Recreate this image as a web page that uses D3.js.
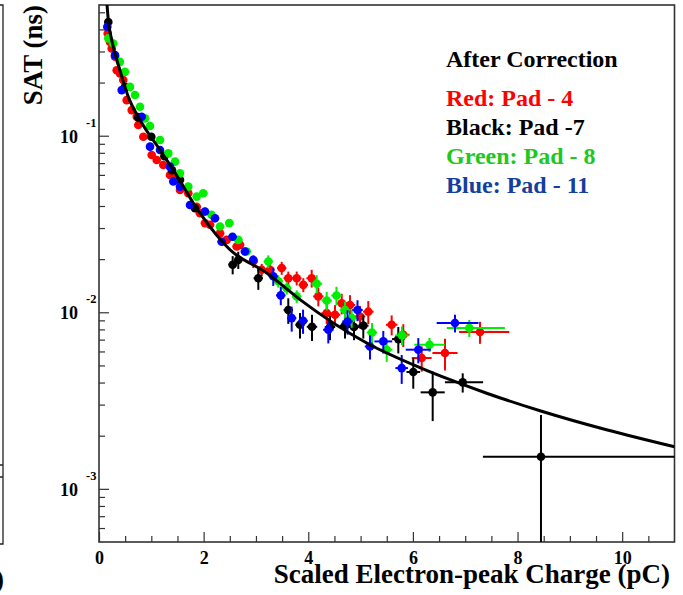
<!DOCTYPE html>
<html>
<head>
<meta charset="utf-8">
<script src="https://cdn.jsdelivr.net/npm/d3@7"></script>
<style>
  body { margin: 0; background: #fff; }
  text { font-family: "Liberation Serif", "Times New Roman", serif; font-weight: bold; }
</style>
</head>
<body>
<svg id="chart"></svg>
<script>
// ---- data ----
var redX = [0.166, 0.21, 0.243, 0.306, 0.338, 0.40, 0.464, 0.497, 0.529, 0.625, 0.721, 0.751, 0.847, 1.007, 1.103, 1.229, 1.357, 1.453, 1.548, 1.707, 1.867, 1.93, 2.026, 2.122, 2.313, 2.441, 2.632, 2.695, 2.949, 3.11, 3.268, 3.492, 3.618, 3.779, 3.905, 4.065, 4.192, 4.352, 4.511, 4.639, 4.797, 4.988, 5.147, 5.594, 5.816, 6.168, 6.613, 7.282];
var redY = [0.379, 0.340, 0.312, 0.280, 0.235, 0.225, 0.207, 0.189, 0.159, 0.1397, 0.128, 0.115, 0.0987, 0.0777, 0.0729, 0.0683, 0.0599, 0.0574, 0.0493, 0.0472, 0.0396, 0.0364, 0.0320, 0.0313, 0.0280, 0.0257, 0.0236, 0.0241, 0.0194, 0.0174, 0.0174, 0.0178, 0.0156, 0.0156, 0.0143, 0.0156, 0.0123, 0.00989, 0.00968, 0.01124, 0.0110, 0.00947, 0.01008, 0.0085, 0.00746, 0.00551, 0.00588, 0.00773];
var redEx = [0.07, 0.07, 0.07, 0.07, 0.07, 0.07, 0.07, 0.07, 0.07, 0.07, 0.07, 0.07, 0.07, 0.07, 0.07, 0.07, 0.07, 0.07, 0.07, 0.07, 0.08, 0.08, 0.08, 0.08, 0.08, 0.08, 0.08, 0.08, 0.09, 0.09, 0.09, 0.09, 0.09, 0.09, 0.09, 0.1, 0.1, 0.1, 0.1, 0.1, 0.1, 0.1, 0.1, 0.11, 0.12, 0.19, 0.24, [0.40, 0.56]];
var redEy = [0.009, 0.008, 0.008, 0.007, 0.006, 0.006, 0.005, 0.005, 0.004, 0.0035, 0.0032, 0.003, 0.0025, 0.002, 0.0019, 0.0018, 0.0016, 0.0015, 0.0013, 0.0013, 0.0016, 0.0015, 0.0013, 0.0013, 0.0012, 0.0011, 0.0011, 0.0011, 0.0016, 0.0014, 0.0015, 0.0015, 0.0014, 0.0014, 0.0013, 0.0018, 0.0015, 0.0013, 0.0013, 0.0015, 0.0015, 0.0014, 0.0015, 0.0011, 0.0011, 0.0009, 0.0012, 0.0011];

var blackX = [0.178, 0.5, 0.75, 1.0, 1.25, 1.395, 1.548, 1.835, 2.555, 2.662, 3.045, 3.618, 3.842, 4.071, 4.415, 4.702, 4.874, 5.052, 5.721, 6.007, 6.378, 6.952, 8.448];
var blackY = [0.441, 0.188, 0.127, 0.0986, 0.0766, 0.0637, 0.0562, 0.0388, 0.0186, 0.0198, 0.0156, 0.0103, 0.0085, 0.00828, 0.00825, 0.0084, 0.00825, 0.0084, 0.00705, 0.00459, 0.00352, 0.00401, 0.00152];
var blackEx = [0.07, 0.07, 0.07, 0.07, 0.07, 0.07, 0.07, 0.08, 0.08, 0.08, 0.09, 0.09, 0.09, 0.1, 0.1, 0.1, 0.1, 0.1, 0.12, 0.13, 0.23, [0.34, 0.39], [1.11, 2.6]];
var blackEy = [0.011, 0.005, 0.0032, 0.0025, 0.002, 0.0016, 0.0014, 0.0012, 0.0022, 0.0022, 0.0022, 0.0017, 0.0014, 0.0014, 0.0013, 0.0013, 0.0013, 0.0013, 0.0012, 0.0009, 0.0011, 0.0005, 0.0011];

var greenX = [0.178, 0.273, 0.40, 0.497, 0.593, 0.688, 0.784, 0.879, 0.975, 1.166, 1.325, 1.453, 1.548, 1.707, 1.867, 1.993, 2.154, 2.313, 2.49, 2.662, 2.823, 3.236, 3.427, 3.588, 3.779, 4.161, 4.352, 4.539, 4.702, 4.83, 5.218, 5.499, 5.791, 6.317, 7.078];
var greenY = [0.356, 0.333, 0.262, 0.230, 0.189, 0.170, 0.146, 0.1254, 0.1135, 0.0946, 0.0794, 0.0713, 0.0612, 0.0515, 0.0452, 0.0472, 0.0356, 0.0306, 0.0320, 0.0257, 0.0221, 0.0194, 0.0150, 0.0137, 0.0123, 0.0145, 0.01165, 0.01244, 0.0103, 0.00927, 0.00768, 0.00614, 0.0074, 0.00655, 0.00814];
var greenEx = [0.07, 0.07, 0.07, 0.07, 0.07, 0.07, 0.07, 0.07, 0.07, 0.07, 0.07, 0.07, 0.07, 0.07, 0.07, 0.08, 0.08, 0.08, 0.08, 0.08, 0.08, 0.09, 0.09, 0.09, 0.09, 0.1, 0.1, 0.1, 0.1, 0.1, 0.1, 0.11, 0.13, 0.29, [0.43, 0.68]];
var greenEy = [0.009, 0.008, 0.0065, 0.0058, 0.0047, 0.0043, 0.0037, 0.0031, 0.0028, 0.0024, 0.002, 0.0018, 0.0015, 0.0013, 0.0011, 0.0019, 0.0014, 0.0012, 0.0013, 0.001, 0.0009, 0.0016, 0.0012, 0.0011, 0.001, 0.0017, 0.0014, 0.0015, 0.0012, 0.0011, 0.001, 0.0009, 0.0009, 0.0006, 0.0009];

var blueX = [0.159, 0.306, 0.434, 0.816, 0.975, 1.166, 1.357, 1.42, 1.548, 1.739, 2.026, 2.217, 2.345, 2.552, 2.79, 2.949, 3.331, 3.475, 3.683, 3.9, 4.383, 4.75, 4.941, 5.18, 5.434, 5.786, 6.103, 6.804];
var blueY = [0.414, 0.286, 0.1813, 0.128, 0.0867, 0.083, 0.0668, 0.055, 0.0515, 0.0405, 0.0372, 0.0341, 0.0251, 0.0268, 0.0221, 0.0198, 0.016, 0.01247, 0.00927, 0.00895, 0.00796, 0.00887, 0.0103, 0.0064, 0.00684, 0.00483, 0.00614, 0.00869];
var blueEx = [0.07, 0.07, 0.07, 0.07, 0.07, 0.07, 0.07, 0.07, 0.07, 0.07, 0.08, 0.08, 0.08, 0.08, 0.08, 0.08, 0.09, 0.09, 0.09, 0.09, 0.1, 0.1, 0.1, 0.1, 0.17, 0.12, 0.24, [0.35, 0.45]];
var blueEy = [0.010, 0.007, 0.0045, 0.0032, 0.0022, 0.0021, 0.0017, 0.0014, 0.0013, 0.001, 0.0019, 0.0017, 0.0013, 0.0013, 0.0011, 0.001, 0.0019, 0.0015, 0.0015, 0.0014, 0.0013, 0.0014, 0.0014, 0.001, 0.001, 0.0009, 0.001, 0.001];

// fitted curve
var fitX = [0.147, 0.178, 0.243, 0.40, 0.56, 0.784, 1.166, 1.42, 1.93, 2.504, 3.205, 3.842, 5.117, 6.135, 6.71, 7.41, 8.46, 9.7, 11.0];
var fitY = [0.585, 0.451, 0.348, 0.235, 0.166, 0.1227, 0.083, 0.064, 0.0364, 0.0226, 0.0167, 0.0118, 0.0067, 0.00486, 0.00415, 0.00348, 0.00275, 0.00216, 0.00173];

var xTicks = [0, 2, 4, 6, 8, 10];
var yTicks = [1e-1, 1e-2, 1e-3];
var yTickExp = ["-1", "-2", "-3"];
var legendTitle = "After Correction";
var legendLabels = ["Red: Pad - 4", "Black: Pad -7", "Green: Pad - 8", "Blue: Pad - 11"];
var legendColors = ["#ff0000", "#000000", "#1ec81e", "#153e9e"];

(function() {
  var width = 683, height = 595;
  var padL = 99, padR = 674.5, padT = 5, padB = 542;

  var svg = d3.select("#chart").attr("width", width).attr("height", height);
  svg.append("rect").attr("width", width).attr("height", height).attr("fill", "#fff");

  var x = d3.scaleLinear().domain([0, 11]).range([padL, padR]);
  var y = d3.scaleLog().domain([5e-4, 0.55]).range([padB, padT]);

  // edge of the neighbouring pad on the left
  svg.append("path")
    .attr("d", "M0,5H3V544H0M0,465H3M0,477H3")
    .attr("fill", "none").attr("stroke", "#222").attr("stroke-width", 1.3);
  svg.append("text").attr("x", 4).attr("y", 588).attr("text-anchor", "end")
    .attr("font-size", 27).text(")");

  svg.append("clipPath").attr("id", "plotclip")
    .append("rect").attr("x", padL).attr("y", padT).attr("width", padR - padL).attr("height", padB - padT);

  // axes - ticks point into the frame like ROOT
  var minorX = d3.range(0.5, 11, 0.5).filter(function(v) { return v % 2 !== 0; });
  var gxMinor = svg.append("g").attr("transform", "translate(0," + padB + ")")
    .call(d3.axisBottom(x).tickValues(minorX).tickSize(-6).tickFormat(""));
  var gx = svg.append("g").attr("transform", "translate(0," + padB + ")")
    .call(d3.axisBottom(x).tickValues(xTicks).tickSizeInner(-10).tickSizeOuter(0).tickPadding(9).tickFormat(d3.format("d")));
  gx.attr("font-size", null).attr("font-family", null);
  gx.selectAll("text").attr("font-size", 18).attr("fill", "#000");

  var minorY = [];
  [-4, -3, -2, -1].forEach(function(k) {
    for (var m = 2; m <= 9; m++) {
      var v = m * Math.pow(10, k);
      if (v > 5e-4 && v < 0.55) minorY.push(v);
    }
  });
  var gyMinor = svg.append("g").attr("transform", "translate(" + padL + ",0)")
    .call(d3.axisLeft(y).tickValues(minorY).tickSize(-6).tickFormat(""));
  var gy = svg.append("g").attr("transform", "translate(" + padL + ",0)")
    .call(d3.axisLeft(y).tickValues(yTicks).tickSize(-10).tickFormat(""));

  [gx, gxMinor, gy, gyMinor].forEach(function(g) {
    g.select(".domain").remove();
    g.selectAll("line").attr("stroke", "#333").attr("stroke-width", 1.2);
  });

  // y tick labels as 10^n
  var yLab = svg.append("g");
  yTicks.forEach(function(v, i) {
    yLab.append("text").attr("x", 78).attr("y", y(v) + 7).attr("text-anchor", "end")
      .attr("font-size", 18).text("10");
    yLab.append("text").attr("x", 86).attr("y", y(v) - 9)
      .attr("font-size", 12.5).text(yTickExp[i]);
  });

  // frame
  svg.append("rect").attr("x", padL).attr("y", padT).attr("width", padR - padL).attr("height", padB - padT)
    .attr("fill", "none").attr("stroke", "#333").attr("stroke-width", 1.6);

  // axis titles
  svg.append("text").attr("x", 670).attr("y", 583).attr("text-anchor", "end")
    .attr("font-size", 27).text("Scaled Electron-peak Charge (pC)");
  svg.append("text").attr("transform", "translate(42,5) rotate(-90)").attr("text-anchor", "end")
    .attr("font-size", 27).text("SAT (ns)");

  var plot = svg.append("g").attr("clip-path", "url(#plotclip)");

  function drawSeries(xs, ys, exs, eys, color) {
    var pts = xs.map(function(v, i) {
      var e = exs[i];
      return { x: v, y: ys[i], exl: Array.isArray(e) ? e[0] : e, exh: Array.isArray(e) ? e[1] : e, ey: eys[i] };
    });
    var g = plot.append("g");
    g.selectAll("line.h").data(pts).join("line").attr("class", "h")
      .attr("x1", function(d) { return x(d.x - d.exl); })
      .attr("x2", function(d) { return x(d.x + d.exh); })
      .attr("y1", function(d) { return y(d.y); })
      .attr("y2", function(d) { return y(d.y); })
      .attr("stroke", color).attr("stroke-width", 2);
    g.selectAll("line.v").data(pts).join("line").attr("class", "v")
      .attr("x1", function(d) { return x(d.x); })
      .attr("x2", function(d) { return x(d.x); })
      .attr("y1", function(d) { return y(d.y + d.ey); })
      .attr("y2", function(d) { return y(Math.max(d.y - d.ey, 1e-5)); })
      .attr("stroke", color).attr("stroke-width", 2);
    g.selectAll("circle").data(pts).join("circle")
      .attr("cx", function(d) { return x(d.x); })
      .attr("cy", function(d) { return y(d.y); })
      .attr("r", 4.3).attr("fill", color);
  }

  drawSeries(redX, redY, redEx, redEy, "#ff0000");
  drawSeries(blackX, blackY, blackEx, blackEy, "#000000");
  drawSeries(greenX, greenY, greenEx, greenEy, "#00ee00");
  drawSeries(blueX, blueY, blueEx, blueEy, "#0000ff");

  // fit curve on top
  var fitPts = fitX.map(function(v, i) { return [v, fitY[i]]; });
  plot.append("path").datum(fitPts)
    .attr("d", d3.line().x(function(d) { return x(d[0]); }).y(function(d) { return y(d[1]); }).curve(d3.curveMonotoneX))
    .attr("fill", "none").attr("stroke", "#000").attr("stroke-width", 3);

  // legend text
  svg.append("text").attr("x", 446).attr("y", 67).attr("font-size", 24).text(legendTitle);
  var legendY = [106, 135, 164, 193];
  legendLabels.forEach(function(t, i) {
    svg.append("text").attr("x", 446).attr("y", legendY[i]).attr("font-size", 24)
      .attr("fill", legendColors[i]).text(t);
  });
})();
</script>
</body>
</html>
